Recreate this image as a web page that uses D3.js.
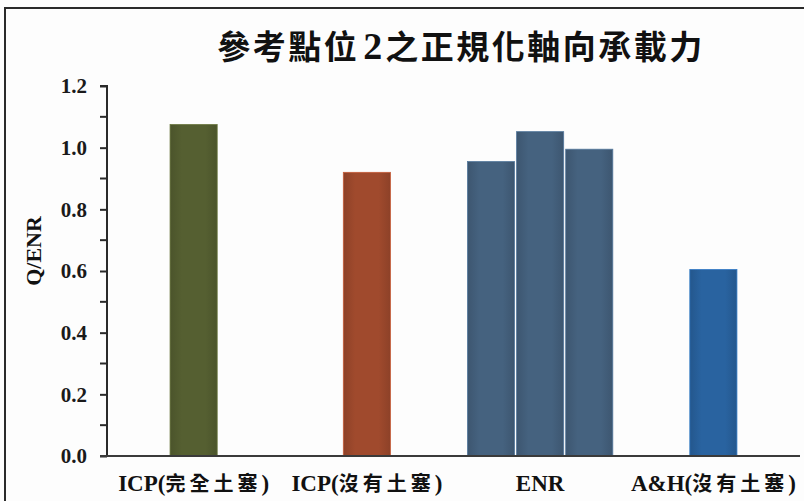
<!DOCTYPE html>
<html>
<head>
<meta charset="utf-8">
<script src="https://cdn.jsdelivr.net/npm/d3@7"></script>
<style>
  html, body { margin: 0; padding: 0; background: #fdfdfd; }
  svg { display: block; }
</style>
</head>
<body>
<svg id="chart" width="804" height="501"></svg>
<script>
// Normalized axial capacity at reference point 2
const title = "參考點位2之正規化軸向承載力";
const yTitle = "Q/ENR";
const categories = ["ICP(完全土塞)", "ICP(沒有土塞)", "ENR", "A&H(沒有土塞)"];
const categoryValues = [[1.075], [0.92], [0.955, 1.052, 0.995], [0.605]];
const categoryColors = ["#555f31", "#a04a2d", "#45627f", "#2963a0"];
const yTicks = [0.0, 0.2, 0.4, 0.6, 0.8, 1.0, 1.2];
const yMinorTicks = [0.1, 0.3, 0.5, 0.7, 0.9, 1.1];

const svg = d3.select("#chart");
const W = 804, H = 501;
const plotLeft = 107, plotRight = 800, plotTop = 86, plotBottom = 456;

// outer frame (top and left edges visible)
svg.append("rect")
  .attr("x", 5).attr("y", 8).attr("width", W + 10).attr("height", H + 10)
  .attr("fill", "#fdfdfd").attr("stroke", "#2a2a2a").attr("stroke-width", 2);

const x = d3.scaleBand().domain(categories).range([plotLeft, plotRight]);
const y = d3.scaleLinear().domain([0, 1.2]).range([plotBottom, plotTop]);
const barW = x.bandwidth() * 0.272;

// gradient per colour: darker at the edges
const defs = svg.append("defs");
categoryColors.forEach((c, i) => {
  const g = defs.append("linearGradient").attr("id", "g" + i)
    .attr("x1", "0").attr("x2", "1").attr("y1", "0").attr("y2", "0");
  const dk = d3.color(c).darker(0.35);
  g.append("stop").attr("offset", "0%").attr("stop-color", dk);
  g.append("stop").attr("offset", "25%").attr("stop-color", c);
  g.append("stop").attr("offset", "75%").attr("stop-color", c);
  g.append("stop").attr("offset", "100%").attr("stop-color", dk);
});

// bars
const bars = [];
categories.forEach((cat, i) => {
  const vals = categoryValues[i];
  const cx = x(cat) + x.bandwidth() / 2;
  const gap = 2;
  const total = vals.length * barW + (vals.length - 1) * gap;
  const sub = d3.scaleBand().domain(d3.range(vals.length))
    .range([cx - total / 2, cx + total / 2])
    .paddingInner(vals.length > 1 ? gap / (barW + gap) : 0);
  vals.forEach((v, j) => bars.push({ x: sub(j), w: sub.bandwidth(), v, i }));
});

svg.append("g").selectAll("rect").data(bars).join("rect")
  .attr("x", d => d.x).attr("width", d => d.w)
  .attr("y", d => y(d.v)).attr("height", d => y(0) - y(d.v))
  .attr("fill", d => `url(#g${d.i})`)
  .attr("stroke", d => d3.color(categoryColors[d.i]).brighter(0.6))
  .attr("stroke-width", 0.8);

// y axis with major and minor ticks
const yAxis = d3.axisLeft(y).tickValues(yTicks).tickFormat(d3.format(".1f"))
  .tickSize(7).tickPadding(13);
const gy = svg.append("g").attr("transform", `translate(${plotLeft},0)`).call(yAxis);
gy.select(".domain").attr("stroke", "#2a2a2a").attr("stroke-width", 2)
  .attr("d", `M-7,${plotTop}H0V${plotBottom}`);
gy.selectAll(".tick line").attr("stroke", "#2a2a2a").attr("stroke-width", 2);
gy.selectAll(".tick text")
  .attr("font-family", "'Liberation Serif', 'Times New Roman', serif")
  .attr("font-weight", "bold").attr("font-size", 21).attr("fill", "#1a1a1a");
svg.append("g").selectAll("line").data(yMinorTicks).join("line")
  .attr("x1", plotLeft - 7).attr("x2", plotLeft)
  .attr("y1", d => y(d)).attr("y2", d => y(d))
  .attr("stroke", "#2a2a2a").attr("stroke-width", 2);

// x axis baseline
svg.append("line").attr("x1", plotLeft - 7).attr("x2", plotRight)
  .attr("y1", plotBottom).attr("y2", plotBottom)
  .attr("stroke", "#3a3a3a").attr("stroke-width", 2.2);

// category labels: Latin part in serif, CJK part spaced out
const xl = svg.append("g").selectAll("text").data(categories).join("text")
  .attr("x", d => x(d) + x.bandwidth() / 2)
  .attr("y", 491)
  .attr("text-anchor", "middle")
  .attr("font-weight", "bold").attr("fill", "#111");
xl.each(function (d) {
  const t = d3.select(this);
  const parts = d.match(/[\u3400-\u9fff]+|[^\u3400-\u9fff]+/g);
  parts.forEach(p => {
    const cjk = /[\u3400-\u9fff]/.test(p);
    t.append("tspan").text(p)
      .attr("font-family", cjk ? "'Noto Sans CJK TC', sans-serif" : "'Liberation Serif', serif")
      .attr("letter-spacing", cjk ? 4 : 0)
      .attr("font-size", cjk ? 20 : 23);
  });
});

// y axis title
svg.append("text")
  .attr("transform", "translate(41,251) rotate(-90)")
  .attr("text-anchor", "middle")
  .attr("font-family", "'Liberation Serif', serif").attr("font-weight", "bold")
  .attr("font-size", 22).attr("fill", "#111")
  .text(yTitle);

// chart title
const tt = svg.append("text").attr("x", 461).attr("y", 59)
  .attr("text-anchor", "middle").attr("font-weight", "bold").attr("fill", "#111");
title.match(/[\u3400-\u9fff]+|[^\u3400-\u9fff]+/g).forEach(p => {
  const cjk = /[\u3400-\u9fff]/.test(p);
  tt.append("tspan").text(p)
    .attr("font-family", cjk ? "'Noto Sans CJK TC', sans-serif" : "'Liberation Serif', serif")
    .attr("font-size", cjk ? 33 : 38)
    .attr("letter-spacing", cjk ? 2.5 : 3)
    .attr("dx", cjk ? 0 : 4);
});
</script>
</body>
</html>
